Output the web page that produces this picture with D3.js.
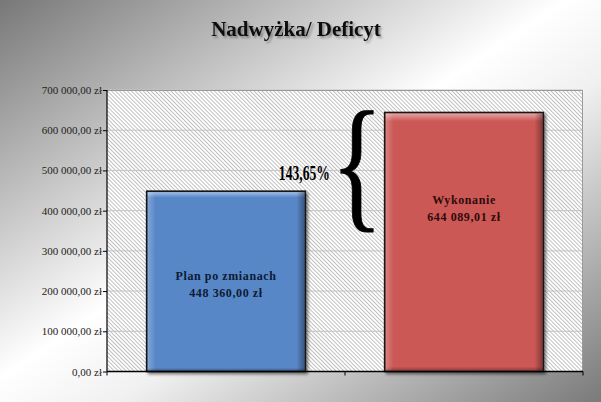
<!DOCTYPE html>
<html><head><meta charset="utf-8">
<script src="https://cdn.jsdelivr.net/npm/d3@7"></script>
<style>html,body{margin:0;padding:0;background:#fff;}svg{display:block;}</style>
</head><body>
<script>
const title = "Nadwyżka/ Deficyt";
const categories = ["Plan po zmianach", "Wykonanie"];
const values = [448360.00, 644089.01];
const valueLabels = ["448 360,00 zł", "644 089,01 zł"];
const yTicks = [0, 100000, 200000, 300000, 400000, 500000, 600000, 700000];
const yTickLabels = ["0,00 zł", "100 000,00 zł", "200 000,00 zł", "300 000,00 zł", "400 000,00 zł", "500 000,00 zł", "600 000,00 zł", "700 000,00 zł"];
const percentLabel = "143,65%";

const W = 601, H = 402;
const margin = {left: 107, right: 18, top: 90, bottom: 30.5};
const barColors = ["#5887c8", "#cc5856"];
const labelColors = ["#0d1a33", "#2e0b0b"];
const labelPos = [0.515, 0.37];

const svg = d3.select("body").append("svg").attr("width", W).attr("height", H);
const defs = svg.append("defs");

const bg = defs.append("linearGradient").attr("id","bg").attr("x1","0").attr("y1","0").attr("x2","1").attr("y2","1");
bg.append("stop").attr("offset","0").attr("stop-color","#787878");
bg.append("stop").attr("offset","0.47").attr("stop-color","#ffffff");
bg.append("stop").attr("offset","0.6").attr("stop-color","#f0f0f0");
bg.append("stop").attr("offset","1").attr("stop-color","#7a7a7a");

const hs = 2.8;
const pat = defs.append("pattern").attr("id","hatch").attr("patternUnits","userSpaceOnUse")
  .attr("width",hs).attr("height",hs).attr("patternTransform","rotate(-45)");
pat.append("rect").attr("width",hs).attr("height",hs).attr("fill","#ffffff");
pat.append("line").attr("x1",0.5).attr("y1",0).attr("x2",0.5).attr("y2",hs).attr("stroke","#b4b4b4").attr("stroke-width",0.85);

const sh = defs.append("filter").attr("id","shadow").attr("x","-10%").attr("y","-10%").attr("width","130%").attr("height","130%");
sh.append("feGaussianBlur").attr("in","SourceAlpha").attr("stdDeviation",1.5).attr("result","b");
sh.append("feOffset").attr("in","b").attr("dx",2).attr("dy",2).attr("result","o");
sh.append("feComponentTransfer").attr("in","o").attr("result","o2").append("feFuncA").attr("type","linear").attr("slope",0.5);
const mg = sh.append("feMerge"); mg.append("feMergeNode").attr("in","o2"); mg.append("feMergeNode").attr("in","SourceGraphic");

const tsh = defs.append("filter").attr("id","tshadow").attr("x","-5%").attr("y","-20%").attr("width","115%").attr("height","150%");
tsh.append("feGaussianBlur").attr("in","SourceAlpha").attr("stdDeviation",0.8).attr("result","b");
tsh.append("feOffset").attr("in","b").attr("dx",1.5).attr("dy",1.5).attr("result","o");
tsh.append("feComponentTransfer").attr("in","o").attr("result","o2").append("feFuncA").attr("type","linear").attr("slope",0.35);
const mg2 = tsh.append("feMerge"); mg2.append("feMergeNode").attr("in","o2"); mg2.append("feMergeNode").attr("in","SourceGraphic");

const bev = defs.append("linearGradient").attr("id","bevV").attr("x1","0").attr("y1","0").attr("x2","0").attr("y2","1");
bev.append("stop").attr("offset","0").attr("stop-color","#fff").attr("stop-opacity",0.45);
bev.append("stop").attr("offset","0.03").attr("stop-color","#fff").attr("stop-opacity",0.0);
bev.append("stop").attr("offset","0.985").attr("stop-color","#000").attr("stop-opacity",0.0);
bev.append("stop").attr("offset","1").attr("stop-color","#000").attr("stop-opacity",0.3);
const bevH = defs.append("linearGradient").attr("id","bevH").attr("x1","0").attr("y1","0").attr("x2","1").attr("y2","0");
bevH.append("stop").attr("offset","0").attr("stop-color","#fff").attr("stop-opacity",0.25);
bevH.append("stop").attr("offset","0.05").attr("stop-color","#fff").attr("stop-opacity",0.0);
bevH.append("stop").attr("offset","0.95").attr("stop-color","#000").attr("stop-opacity",0.0);
bevH.append("stop").attr("offset","1").attr("stop-color","#000").attr("stop-opacity",0.35);

svg.append("rect").attr("width",W).attr("height",H).attr("fill","url(#bg)");

const x = d3.scaleBand().domain(categories).range([margin.left, W - margin.right]).paddingInner(1/3).paddingOuter(1/6);
const y = d3.scaleLinear().domain([0, 700000]).range([H - margin.bottom, margin.top]);

const x0 = margin.left, x1 = W - margin.right, yb = y(0), yt = y(700000);

svg.append("rect").attr("x",x0).attr("y",yt).attr("width",x1-x0).attr("height",yb-yt).attr("fill","url(#hatch)");

svg.append("g").selectAll("line").data(yTicks.slice(1)).join("line")
  .attr("x1",x0).attr("x2",x1).attr("y1",d=>y(d)).attr("y2",d=>y(d))
  .attr("stroke","#c4c4c4").attr("stroke-width",1);
svg.append("path").attr("d",`M${x0},${yt+0.5}H${x1-0.5}V${yb}`).attr("fill","none").attr("stroke","#9a9a9a").attr("stroke-width",1);

const bars = svg.append("g");
categories.forEach((c,i)=>{
  const bx = x(c), bw = x.bandwidth(), by = y(values[i]), bh = yb - y(values[i]);
  bars.append("rect").attr("x",bx).attr("y",by).attr("width",bw).attr("height",bh)
    .attr("fill",barColors[i]).attr("stroke","#141414").attr("stroke-width",1.6).attr("filter","url(#shadow)");
  bars.append("rect").attr("x",bx+1).attr("y",by+1).attr("width",bw-2).attr("height",bh-2).attr("fill","url(#bevV)");
  bars.append("rect").attr("x",bx+1).attr("y",by+1).attr("width",bw-2).attr("height",bh-2).attr("fill","url(#bevH)");
  const cy = by + bh*labelPos[i];
  const t = svg.append("text").attr("x",bx+bw/2).attr("text-anchor","middle")
    .attr("font-family","'Liberation Serif','Times New Roman',serif").attr("font-weight","bold")
    .attr("font-size",12).attr("letter-spacing",0.6).attr("fill",labelColors[i]);
  t.append("tspan").attr("x",bx+bw/2).attr("y",cy-4).text(c);
  t.append("tspan").attr("x",bx+bw/2).attr("y",cy+13).text(valueLabels[i]);
});

const yAxis = svg.append("g").attr("transform",`translate(${x0},0)`)
  .call(d3.axisLeft(y).tickValues(yTicks).tickSize(4).tickFormat((d,i)=>yTickLabels[i]));
yAxis.select(".domain").attr("stroke","#000").attr("stroke-width",1.2).attr("d",`M0,${yt}V${yb}`);
yAxis.selectAll(".tick line").attr("stroke","#000");
yAxis.selectAll(".tick text").attr("x",-5).attr("font-family","'Liberation Serif','Times New Roman',serif")
  .attr("font-size",11).attr("fill","#222");

const bounds = [x0, x(categories[1]) - x.step()*x.paddingInner()/2, x1];
const xAx = svg.append("g");
xAx.append("line").attr("x1",x0).attr("x2",x1).attr("y1",yb).attr("y2",yb).attr("stroke","#000").attr("stroke-width",1.4);
xAx.selectAll("line.t").data(bounds).join("line").attr("class","t")
  .attr("x1",d=>d).attr("x2",d=>d).attr("y1",yb).attr("y2",yb+4).attr("stroke","#000");

svg.append("text").attr("x",296).attr("y",36).attr("text-anchor","middle")
  .attr("font-family","'Liberation Serif','Times New Roman',serif").attr("font-weight","bold")
  .attr("font-size",21).attr("fill","#111").attr("filter","url(#tshadow)").text(title);

// brace annotation
const braceTop = y(values[1]), braceBot = y(350000);
const braceSpan = braceBot - braceTop;
const braceFs = braceSpan / 0.806;
const braceCy = (braceTop + braceBot) / 2;
svg.append("text").attr("x",331).attr("y",braceCy - 0.062*braceFs)
  .attr("dominant-baseline","central")
  .attr("textLength",52).attr("lengthAdjust","spacingAndGlyphs")
  .attr("font-family","'Liberation Serif','Times New Roman',serif").attr("font-size",braceFs)
  .attr("fill","#000").attr("stroke","#000").attr("stroke-width",1).text("{");
const pg = svg.append("g").attr("transform",`translate(330,180) scale(0.62,1)`);
pg.append("text").attr("x",0).attr("y",0).attr("text-anchor","end")
  .attr("font-family","'Liberation Serif','Times New Roman',serif").attr("font-weight","bold")
  .attr("font-size",22).attr("fill","#000").text(percentLabel);
</script>
</body></html>
